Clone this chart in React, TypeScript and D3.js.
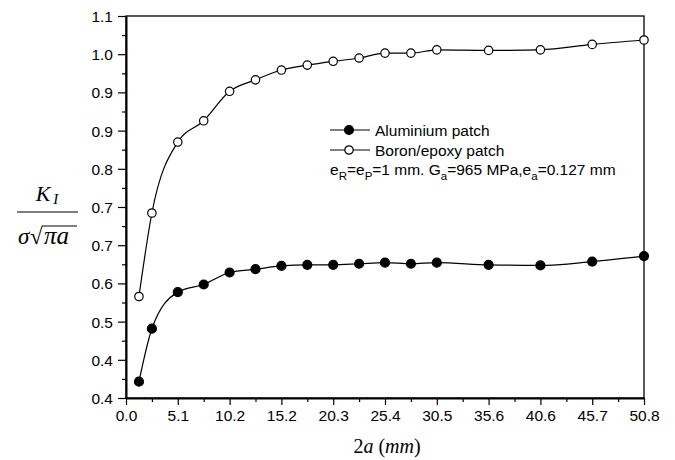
import React, { useEffect, useRef } from 'react';
import * as d3 from 'd3';

// crack length 2a in mm
const crackLength = [1.27, 2.54, 5.08, 7.62, 10.16, 12.7, 15.24, 17.78, 20.32, 22.86, 25.4, 27.94, 30.48, 35.56, 40.64, 45.72, 50.8];
const aluminiumPatch = [0.430, 0.527, 0.594, 0.608, 0.630, 0.636, 0.642, 0.644, 0.644, 0.646, 0.648, 0.646, 0.648, 0.644, 0.643, 0.650, 0.660];
const boronEpoxyPatch = [0.586, 0.739, 0.869, 0.908, 0.962, 0.983, 1.001, 1.010, 1.017, 1.023, 1.032, 1.032, 1.038, 1.037, 1.038, 1.048, 1.056];

const xTickValues = [0, 5.08, 10.16, 15.24, 20.32, 25.4, 30.48, 35.56, 40.64, 45.72, 50.8];
const xTickLabels = ['0.0', '5.1', '10.2', '15.2', '20.3', '25.4', '30.5', '35.6', '40.6', '45.7', '50.8'];
const yTickValues = [0.4, 0.47, 0.54, 0.61, 0.68, 0.75, 0.82, 0.89, 0.96, 1.03, 1.1];
const yTickLabels = ['0.4', '0.4', '0.5', '0.6', '0.7', '0.7', '0.8', '0.9', '0.9', '1.0', '1.1'];

const seriesNames = ['Aluminium patch', 'Boron/epoxy patch'];

const WIDTH = 675;
const HEIGHT = 460;
const margin = { top: 16, right: 31, bottom: 62, left: 126 };
const SANS = '"Liberation Sans", Arial, sans-serif';
const SERIF = '"Liberation Serif", "Times New Roman", serif';

function midpoints(vals: number[]) {
  return vals.slice(1).map((v, i) => (v + vals[i]) / 2);
}

export default function App() {
  const ref = useRef<SVGSVGElement>(null);

  useEffect(() => {
    const svg = d3.select(ref.current);
    svg.selectAll('*').remove();

    const x = d3.scaleLinear().domain([0, 50.8]).range([margin.left, WIDTH - margin.right]);
    const y = d3.scaleLinear().domain([0.4, 1.1]).range([HEIGHT - margin.bottom, margin.top]);

    // frame (top + right)
    svg.append('rect')
      .attr('x', x(0)).attr('y', y(1.1))
      .attr('width', x(50.8) - x(0)).attr('height', y(0.4) - y(1.1))
      .attr('fill', 'none').attr('stroke', '#000').attr('stroke-width', 1.3);

    // x axis
    const xAxis = svg.append('g')
      .attr('transform', `translate(0,${y(0.4)})`)
      .call(d3.axisBottom(x).tickValues(xTickValues)
        .tickFormat((_, i) => xTickLabels[i]).tickSize(7).tickSizeOuter(0).tickPadding(5));
    svg.append('g')
      .attr('transform', `translate(0,${y(0.4)})`)
      .call(d3.axisBottom(x).tickValues(midpoints(xTickValues)).tickFormat(() => '').tickSize(4).tickSizeOuter(0))
      .select('.domain').remove();

    // y axis
    const yAxis = svg.append('g')
      .attr('transform', `translate(${x(0)},0)`)
      .call(d3.axisLeft(y).tickValues(yTickValues)
        .tickFormat((_, i) => yTickLabels[i]).tickSize(8).tickSizeOuter(0).tickPadding(5));
    svg.append('g')
      .attr('transform', `translate(${x(0)},0)`)
      .call(d3.axisLeft(y).tickValues(midpoints(yTickValues)).tickFormat(() => '').tickSize(4).tickSizeOuter(0))
      .select('.domain').remove();

    svg.selectAll('.domain').attr('stroke-width', 2);
    svg.selectAll('.tick line').attr('stroke-width', 1.2);
    [xAxis, yAxis].forEach(a => a.selectAll('text')
      .attr('font-family', SANS).attr('font-size', 15.5).attr('fill', '#000'));
    yAxis.selectAll('text').attr('dy', '0.36em');

    // series
    const line = d3.line<number>()
      .x((_, i) => x(crackLength[i]))
      .y(d => y(d))
      .curve(d3.curveMonotoneX);

    const series = [
      { values: aluminiumPatch, fill: '#000' },
      { values: boronEpoxyPatch, fill: '#fff' },
    ];

    series.forEach(s => {
      svg.append('path')
        .datum(s.values)
        .attr('d', line)
        .attr('fill', 'none')
        .attr('stroke', '#000')
        .attr('stroke-width', 1.2);
      svg.append('g').selectAll('circle')
        .data(s.values)
        .enter().append('circle')
        .attr('cx', (_, i) => x(crackLength[i]))
        .attr('cy', d => y(d))
        .attr('r', s.fill === '#000' ? 4.5 : 4.2)
        .attr('fill', s.fill)
        .attr('stroke', '#000')
        .attr('stroke-width', 1.2);
    });

    // legend
    const legend = svg.append('g').attr('transform', 'translate(330,130)');
    series.forEach((s, i) => {
      const row = legend.append('g').attr('transform', `translate(0,${i * 20})`);
      row.append('line').attr('x1', 0).attr('x2', 40).attr('y1', 0).attr('y2', 0)
        .attr('stroke', '#000').attr('stroke-width', 1.2);
      row.append('circle').attr('cx', 19).attr('cy', 0)
        .attr('r', s.fill === '#000' ? 4.5 : 4.2)
        .attr('fill', s.fill).attr('stroke', '#000').attr('stroke-width', 1.2);
      row.append('text').attr('x', 45).attr('y', 5.5)
        .attr('font-family', SANS).attr('font-size', 15.5)
        .text(seriesNames[i]);
    });
    const note = legend.append('text').attr('x', 0).attr('y', 45)
      .attr('font-family', SANS).attr('font-size', 15.5);
    const parts: [string, boolean][] = [
      ['e', false], ['R', true], ['=e', false], ['P', true], ['=1 mm. G', false],
      ['a', true], ['=965 MPa,e', false], ['a', true], ['=0.127 mm', false],
    ];
    parts.forEach(([t, sub]) => {
      note.append('tspan')
        .attr('font-size', sub ? 11.5 : 15.5)
        .attr('baseline-shift', sub ? '-40%' : null)
        .text(t);
    });

    // x title
    const xt = svg.append('text')
      .attr('x', 387).attr('y', 453)
      .attr('text-anchor', 'middle')
      .attr('font-family', SERIF).attr('font-size', 20);
    xt.append('tspan').text('2');
    xt.append('tspan').attr('font-style', 'italic').text('a');
    xt.append('tspan').text(' (');
    xt.append('tspan').attr('font-style', 'italic').text('mm');
    xt.append('tspan').text(')');

    // y title: K_I / (sigma sqrt(pi a))
    const yt = svg.append('g').attr('font-family', SERIF).attr('font-style', 'italic');
    const num = yt.append('text').attr('x', 47).attr('y', 201)
      .attr('text-anchor', 'middle').attr('font-size', 22);
    num.append('tspan').text('K');
    num.append('tspan').attr('font-size', 15).attr('dx', 3).attr('baseline-shift', '-20%').text('I');
    yt.append('line').attr('x1', 17).attr('x2', 78).attr('y1', 212).attr('y2', 212)
      .attr('stroke', '#000').attr('stroke-width', 1.2);
    yt.append('text').attr('x', 18).attr('y', 244).attr('font-size', 23).text('σ');
    yt.append('text').attr('x', 30).attr('y', 244).attr('font-size', 23)
      .attr('font-style', 'normal').text('√');
    yt.append('text').attr('x', 44).attr('y', 244).attr('font-size', 25).text('πa');
    yt.append('line').attr('x1', 42).attr('x2', 77).attr('y1', 226).attr('y2', 226)
      .attr('stroke', '#000').attr('stroke-width', 1);
  }, []);

  return (
    <svg
      ref={ref}
      width={WIDTH}
      height={HEIGHT}
      style={{ position: 'absolute', left: 0, top: 0, background: '#fff' }}
    />
  );
}
